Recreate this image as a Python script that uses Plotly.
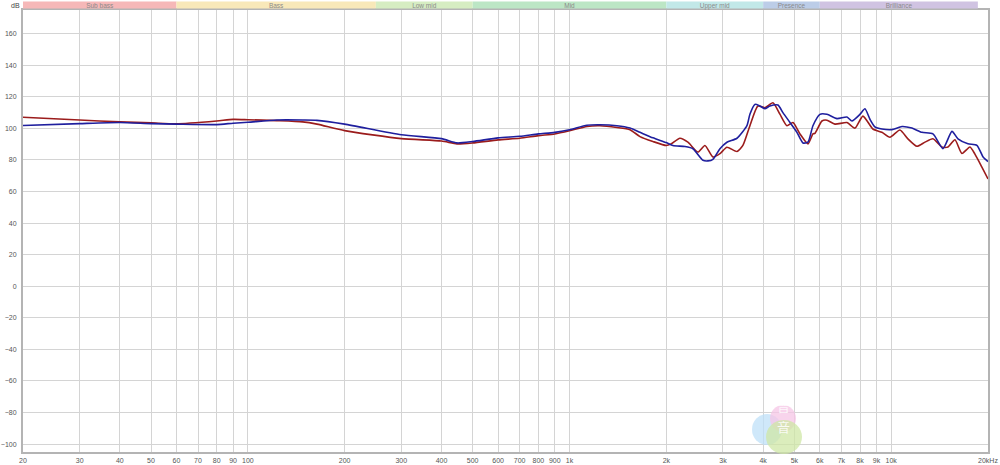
import plotly.graph_objects as go

# ---------------- data ----------------
freq_blue = [20, 30, 40, 50, 60, 80, 90, 100, 123, 148, 164, 200, 300, 400, 447, 500, 600, 700, 800, 900,
             1000, 1133, 1244, 1404, 1542, 1656, 1817, 2000, 2097, 2285, 2420, 2600, 2694, 2792, 2936,
             3086, 3316, 3561, 3638, 3770, 3908, 4050, 4198, 4446, 4608, 4846, 5094, 5318, 5512, 5712,
             6006, 6314, 6782, 7286, 7552, 7996, 8288, 8590, 8900, 9358, 10054, 10800, 11600, 12462,
             13486, 14488, 15452, 16130, 17326, 18476, 19284, 20000]
blue = [101.8, 103.0, 103.7, 103.0, 102.7, 102.4, 103.3, 103.9, 105.3, 105.3, 105.1, 102.7, 96.0, 93.5, 90.8,
        91.7, 94.0, 95.0, 96.5, 97.5, 99.2, 102.0, 102.3, 101.7, 100.2, 97.5, 94.0, 91.0, 89.2, 88.5, 87.1,
        79.8, 79.4, 80.4, 87.1, 91.25, 93.75, 101.7, 109.0, 115.2, 114.2, 112.5, 114.2, 114.8, 110.0,
        103.75, 97.5, 90.8, 91.25, 101.7, 108.9, 108.9, 106.2, 107.2, 104.7, 108.9, 112.4, 105.8, 101.0,
        99.6, 99.2, 101.2, 100.2, 97.5, 96.5, 87.2, 98.1, 93.4, 90.3, 89.3, 82.1, 79.0]

freq_red = [20, 30, 40, 50, 60, 80, 90, 100, 123, 148, 164, 200, 300, 400, 447, 500, 600, 700, 800, 900,
            1000, 1133, 1244, 1404, 1542, 1656, 1817, 2000, 2070, 2204, 2334, 2508, 2636, 2792, 2936,
            3086, 3316, 3460, 3638, 3852, 4050, 4290, 4510, 4742, 4950, 5206, 5512, 5712, 5794, 6092,
            6314, 6686, 7286, 7716, 8168, 8774, 9358, 9912, 10646, 11272, 12024, 12738, 13486, 14384,
            15016, 15788, 16598, 17574, 18214, 19146, 20000]
red = [107.1, 105.3, 104.1, 103.5, 102.9, 104.7, 105.7, 105.5, 104.9, 104.1, 102.7, 98.6, 93.5, 92.0, 90.2,
       90.8, 92.7, 93.75, 95.4, 96.5, 98.5, 101.25, 101.7, 100.6, 99.2, 94.8, 91.7, 89.2, 90.2, 93.75,
       91.25, 85.0, 89.2, 81.9, 84.0, 88.1, 85.4, 89.2, 101.7, 114.2, 113.1, 116.25, 109.0, 101.7, 103.75,
       96.5, 90.2, 96.5, 96.9, 104.7, 105.2, 102.7, 103.7, 100.2, 107.8, 99.6, 97.5, 94.4, 99.0, 93.4,
       88.7, 91.3, 93.4, 88.2, 88.2, 92.8, 84.1, 88.2, 83.7, 75.5, 68.0]

x_tickvals = [20, 30, 40, 50, 60, 70, 80, 90, 100, 200, 300, 400, 500, 600, 700, 800, 900,
              1000, 2000, 3000, 4000, 5000, 6000, 7000, 8000, 9000, 10000, 20000]
x_ticktext = ["20", "30", "40", "50", "60", "70", "80", "90", "100", "200", "300", "400", "500", "600",
              "700", "800", "900", "1k", "2k", "3k", "4k", "5k", "6k", "7k", "8k", "9k", "10k", "20kHz"]
y_tickvals = [-100, -80, -60, -40, -20, 0, 20, 40, 60, 80, 100, 120, 140, 160]

band_names = ["Sub bass", "Bass", "Low mid", "Mid", "Upper mid", "Presence", "Brilliance"]
band_edges = [20, 60, 250, 500, 2000, 4000, 6000, 18600]
band_colors = ["#f6b8b8", "#f8e8b9", "#d6edc2", "#bce6c5", "#c2e8e8", "#bccde8", "#d0c3e2"]

# ---------------- figure ----------------
fig = go.Figure()

fig.add_trace(go.Scatter(x=freq_red, y=red, mode="lines",
                         line=dict(color="#9b1c1c", width=1.6, shape="spline", smoothing=0.6),
                         showlegend=False, hoverinfo="skip"))
fig.add_trace(go.Scatter(x=freq_blue, y=blue, mode="lines",
                         line=dict(color="#1f1f9e", width=1.6, shape="spline", smoothing=0.6),
                         showlegend=False, hoverinfo="skip"))

# frequency band header
for name, c, a, b in zip(band_names, band_colors, band_edges[:-1], band_edges[1:]):
    fig.add_shape(type="rect", xref="x", yref="paper", x0=a, x1=b,
                  y0=1 + 1.5 / 442, y1=1 + 8.5 / 442,
                  fillcolor=c, line=dict(width=0), layer="above",
                  label=dict(text=name, font=dict(size=6.5, color="#8a8a8a",
                                                  family="Liberation Sans"),
                             textposition="middle center"))

# watermark
wm = [("#bfe0f8", 752, 782, 414, 445), ("#f6c6e6", 770, 796, 405, 432), ("#cfe7a6", 766, 802, 420, 454)]
for col, x0, x1, y0, y1 in wm:
    fig.add_shape(type="circle", xref="paper", yref="paper",
                  x0=(x0 - 23) / 965, x1=(x1 - 23) / 965,
                  y0=(452 - y1) / 442, y1=(452 - y0) / 442,
                  fillcolor=col, opacity=0.75, line=dict(width=0), layer="above")
for ch, yy in [("普", 417), ("音", 438)]:
    fig.add_annotation(xref="paper", yref="paper", x=(792 - 23) / 965, y=(452 - yy) / 442,
                       text=ch, showarrow=False, font=dict(size=13, color="rgba(255,255,255,0.85)",
                                                          family="Noto Sans CJK SC"))

fig.add_annotation(xref="paper", yref="paper", x=(15 - 23) / 965, y=(452 - 5.5) / 442,
                   text="dB", showarrow=False, xanchor="center", yanchor="middle",
                   font=dict(size=7, color="#444", family="Liberation Sans"))

fig.update_layout(
    width=1000, height=465,
    margin=dict(l=23, r=12, t=10, b=13, autoexpand=False),
    paper_bgcolor="white", plot_bgcolor="white",
    font=dict(family="Liberation Sans", size=7, color="#555"),
    xaxis=dict(type="log", range=[1.30103, 4.30103], tickvals=x_tickvals, ticktext=x_ticktext,
               automargin=False,
               showgrid=True, gridcolor="#d4d4d4", gridwidth=1, zeroline=False,
               showline=True, linecolor="#b4b4b4", linewidth=2, mirror=True,
               ticks="", ticklabelstandoff=1, tickfont=dict(size=7, color="#555")),
    yaxis=dict(range=[-105, 175], tickvals=y_tickvals, showgrid=True, gridcolor="#d4d4d4",
               automargin=False,
               gridwidth=1, zeroline=False, showline=True, linecolor="#b4b4b4", linewidth=2,
               mirror=True, ticks="", ticklabelstandoff=3, tickfont=dict(size=7, color="#555")),
)

fig.write_html("out.html", config={"displayModeBar": False},
               post_script="document.body.style.margin='0';document.body.style.overflow='hidden';")
